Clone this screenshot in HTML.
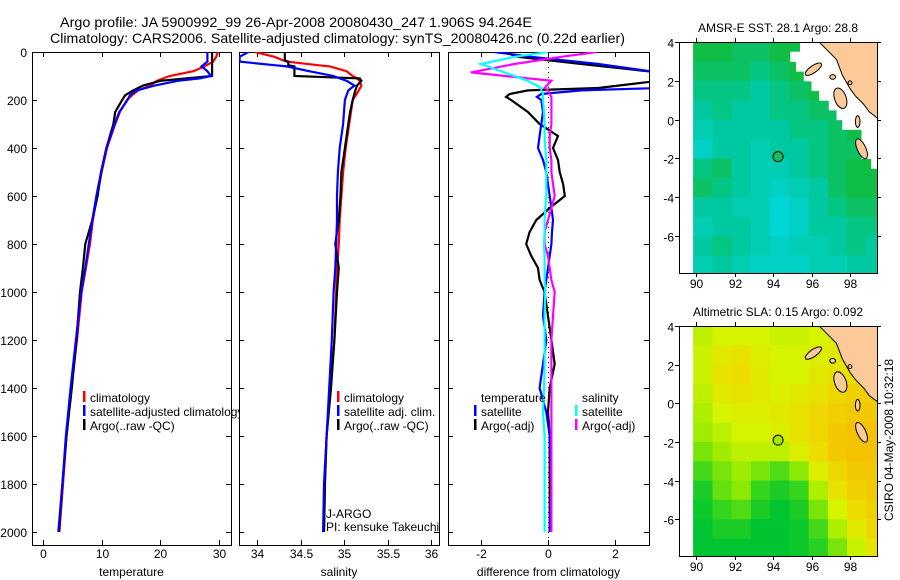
<!DOCTYPE html>
<html><head><meta charset="utf-8">
<style>
html,body{margin:0;padding:0;background:#fff;}
svg{display:block;font-family:"Liberation Sans",sans-serif;}
</style></head>
<body>
<svg id="fig" width="900" height="580" viewBox="0 0 900 580" xmlns="http://www.w3.org/2000/svg">
<text x="60" y="27" font-size="14" textLength="472" lengthAdjust="spacingAndGlyphs">Argo profile: JA 5900992_99 26-Apr-2008 20080430_247 1.906S 94.264E</text>
<text x="50" y="43" font-size="14" textLength="575" lengthAdjust="spacingAndGlyphs">Climatology: CARS2006. Satellite-adjusted climatology: synTS_20080426.nc (0.22d earlier)</text>
<text transform="translate(893,440) rotate(-90)" text-anchor="middle" font-size="12">CSIRO 04-May-2008 10:32:18</text>
</svg>
<script>
// ---------- data ----------
const depthT = [0,20,40,60,80,100,110,120,140,160,180,200,250,300,400,500,600,700,800,900,1000,1200,1400,1600,1800,2000];
const tempClim = [29.8,29.5,29,27.5,25.6,21.6,20.5,19.4,18.2,16.2,15.2,14.3,13.1,12.3,10.9,10,9.2,8.5,8,7.3,6.6,5.8,4.8,4.0,3.4,2.8];
const tempSat  = [28,28,28,27,28,28.6,26.7,23,19,16,14.8,14.4,13,12.2,10.8,9.9,9.1,8.4,7.8,7.2,6.5,5.6,4.7,3.9,3.3,2.6];
const tempArgo = [28.8,28.8,28.8,28.8,28.8,28.8,24.5,20,17,15.4,14,13.5,12.3,12.0,10.8,9.9,9.3,8.4,7.2,6.8,6.3,5.7,4.9,4.0,3.3,2.7];
const depthS = [0,20,35,40,55,60,80,100,110,120,140,160,200,250,300,400,500,600,700,800,900,1000,1200,1400,1600,1800,2000];
const salClim = [33.98,34.2,34.3,34.34,34.7,34.84,35.03,35.1,35.15,35.18,35.2,35.17,35.1,35.08,35.06,35.02,34.99,34.97,34.95,34.94,34.92,34.91,34.89,34.84,34.8,34.78,34.77];
const salSat  = [33.9,33.8,33.8,33.8,34.2,34.34,34.6,34.88,34.95,35.03,35.12,35.05,35.01,35.0,34.99,34.95,34.93,34.92,34.92,34.91,34.9,34.88,34.86,34.83,34.8,34.77,34.76];
const salArgo = [34.32,34.32,34.32,34.36,34.36,34.43,34.43,34.43,35.18,35.2,35.15,35.13,35.1,35.07,35.05,35.01,34.97,34.96,34.94,34.9,34.94,34.92,34.89,34.85,34.8,34.78,34.77];
const depthD = [0,20,50,85,120,150,160,175,187,200,250,300,350,400,450,500,550,600,650,700,750,800,850,900,950,1000,1100,1200,1300,1400,1500,1600,1800,2000];
const diffTSat  = [-1.6,-0.5,1.5,3.3,3.3,3.3,1.0,-0.2,-0.33,-0.2,-0.15,-0.2,-0.25,-0.3,-0.15,-0.05,0.0,0.05,0.1,0.15,0.12,0.1,0.05,0.0,-0.05,-0.1,-0.15,-0.05,-0.15,-0.25,-0.05,0.05,0.1,0.05];
const diffTArgo = [-1.3,-0.9,1.0,3.3,3.3,1.5,-0.6,-1.15,-1.25,-1.1,-0.6,-0.25,0.3,0.15,0.3,0.35,0.45,0.5,0.05,-0.35,-0.55,-0.65,-0.5,-0.3,-0.25,-0.1,0.0,0.1,0.2,0.05,0.0,0.05,0.05,0.05];
const diffSSat  = [0.0,-1.0,-2.0,-1.3,-0.6,-0.2,-0.2,-0.15,-0.15,-0.15,-0.12,-0.1,-0.1,-0.08,-0.05,-0.05,-0.05,-0.05,-0.08,-0.1,-0.1,-0.12,-0.1,-0.1,-0.1,-0.08,-0.1,-0.1,-0.1,-0.12,-0.15,-0.1,-0.1,-0.1];
const diffSArgo = [1.45,0.4,-1.0,-2.3,0.1,-0.1,0.0,0.05,0.1,0.1,0.1,0.1,0.05,0.05,0.1,0.1,0.15,0.2,0.1,0.0,-0.1,-0.1,0.0,0.05,0.1,0.2,0.15,0.1,0.1,0.1,0.1,0.1,0.1,0.1];
const tTicks = [0,10,20,30];
const sTicks = [34,34.5,35,35.5,36];
const sTickLabels = ["34","34.5","35","35.5","36"];
const dTicks = [-2,0,2];
const depthTicks = [0,200,400,600,800,1000,1200,1400,1600,1800,2000];
const lonTicks = [90,92,94,96,98];
const latTicks = [4,2,0,-2,-4,-6];
const sstGrid = [
 [28.3,28.3,28.2,28.2,28.3,28.3,28.3,28.3,28.3,28.3],
 [28.2,28.2,28.2,28.1,28.2,28.3,28.3,28.3,28.3,28.3],
 [28.1,28.1,28.1,28.0,28.1,28.2,28.3,27.8,28.2,28.2],
 [28.0,28.1,28.0,28.0,28.1,28.1,28.2,28.2,28.2,28.2],
 [27.9,28.0,28.0,28.0,28.0,28.1,28.1,28.2,28.3,28.3],
 [27.8,28.0,28.0,27.9,28.0,28.0,28.1,28.2,28.2,28.2],
 [28.1,28.2,28.0,27.9,27.9,28.0,28.1,28.2,28.3,28.3],
 [28.2,28.1,28.0,27.9,27.8,27.9,28.0,28.2,28.3,28.3],
 [28.0,28.0,27.9,27.9,27.7,27.8,28.0,28.1,28.2,28.2],
 [27.9,28.0,28.0,27.9,27.7,27.8,28.0,28.0,28.1,28.1],
 [28.0,28.1,28.0,27.9,27.8,27.9,27.9,28.0,28.1,28.0],
 [27.9,28.0,27.9,27.8,27.8,27.8,27.9,27.9,28.0,28.0]];
const slaGrid = [
 [0.12,0.14,0.14,0.14,0.13,0.13,0.14,0.15,0.1,0.1],
 [0.13,0.16,0.17,0.15,0.14,0.14,0.15,0.16,0.17,0.17],
 [0.13,0.17,0.18,0.16,0.14,0.14,0.16,0.17,0.18,0.18],
 [0.12,0.16,0.17,0.16,0.15,0.16,0.17,0.19,0.20,0.20],
 [0.11,0.14,0.15,0.15,0.16,0.17,0.19,0.20,0.21,0.21],
 [0.10,0.12,0.14,0.14,0.15,0.17,0.19,0.21,0.22,0.22],
 [0.08,0.10,0.12,0.12,0.12,0.15,0.18,0.21,0.22,0.22],
 [0.05,0.08,0.10,0.08,0.06,0.09,0.15,0.19,0.21,0.21],
 [0.02,0.07,0.09,0.04,0.02,0.04,0.11,0.17,0.20,0.21],
 [0.01,0.04,0.06,0.02,0.00,0.02,0.08,0.14,0.18,0.20],
 [0.00,0.02,0.02,0.00,0.00,0.01,0.05,0.11,0.16,0.19],
 [-0.01,0.00,0.00,0.00,0.00,0.01,0.03,0.08,0.13,0.17]];
const gridLon0 = 89.85, gridLat0 = 4;
const argoLon = 94.264, argoLat = -1.906;
const landLon = [96.3,96.8,97.3,97.6,98.0,98.3,98.7,99.0,99.4,99.5,99.5];
const landLat = [4.1,3.6,3.1,2.3,1.6,1.2,0.8,0.4,0.1,0.1,4.1];
// no-data mask: start longitude for each half-degree row from lat 4 downward
const maskStartLon = [95.4,94.9,95.2,95.6,96.0,96.4,96.9,97.3,97.6,98.6,98.6,98.6,99.1];
const islands = [[96.1,2.6,0.5,0.18,-35],[97.5,1.1,0.3,0.55,-20],[98.6,-1.5,0.22,0.55,-25],[98.4,-0.1,0.12,0.3,0],[97.1,2.2,0.15,0.12,0],[98.0,1.9,0.1,0.1,0]];

// ---------- helpers ----------
const NS="http://www.w3.org/2000/svg";
const svg=document.getElementById('fig');
function mk(tag,attrs,parent){const e=document.createElementNS(NS,tag);for(const k in attrs)e.setAttribute(k,attrs[k]);(parent||svg).appendChild(e);return e;}
function txt(x,y,s,attrs,parent){const e=mk('text',Object.assign({x:x,y:y,'font-size':12},attrs||{}),parent);e.textContent=s;return e;}

const PT=52, PB=545, yD=d=>52+d*0.24;
function profilePanel(name,L,R,xs,xTicks,xLabels,title){
  const g=mk('g',{});
  
  
  const cid=name+'-clip';
  const cp=mk('clipPath',{id:cid},g);mk('rect',{x:L,y:PT,width:R-L,height:PB-PT},cp);
  const b=mk('rect',{x:L+.5,y:PT+.5,width:R-L,height:PB-PT,fill:'none',stroke:'#000','stroke-width':1},g);
  
  
  xTicks.forEach((t,i)=>{const x=Math.round(xs(t))+.5;
    mk('line',{x1:x,x2:x,y1:PB,y2:PB-5,stroke:'#000'},g);mk('line',{x1:x,x2:x,y1:PT,y2:PT+5,stroke:'#000'},g);
    const tl=txt(x,558,xLabels[i],{'text-anchor':'middle'},g);
    
    });
  depthTicks.forEach(d=>{const y=Math.round(yD(d))+.5;
    mk('line',{x1:L,x2:L+5,y1:y,y2:y,stroke:'#000'},g);mk('line',{x1:R-5,x2:R,y1:y,y2:y,stroke:'#000'},g);});
  const at=txt((L+R)/2,576,title,{'text-anchor':'middle'},g);
  
  
  return {g,clip:'url(#'+cid+')'};
}
function series(p,xs,depths,vals,color,name){
  const pts=depths.map((d,i)=>xs(vals[i]).toFixed(1)+','+yD(d).toFixed(1)).join(' ');
  const l=mk('polyline',{points:pts,fill:'none',stroke:color,'stroke-width':2.2,'clip-path':p.clip},p.g);
  
  
}
function legendItem(p,x,y,color,label,name,clip){
  if(color){mk('rect',{x:x,y:y-11,width:2.5,height:11,fill:color},p.g);}
  const a={};if(clip)a['clip-path']=clip;
  const t=txt(x+7,y,label,a,p.g);
  
  
}

// depth labels
depthTicks.forEach(d=>{const t=txt(27,yD(d)+5,String(d),{'text-anchor':'end'});
  
  });

// legend clip for panel 1 (text cut at x=240)
const lc=mk('clipPath',{id:'leg1clip'});mk('rect',{x:0,y:0,width:240,height:580},lc);

// panel 1 temperature
const xT=t=>43+t*5.87;
const p1=profilePanel('temperature',32,231,xT,tTicks,tTicks.map(String),'temperature');
series(p1,xT,depthT,tempClim,'#ff0000','temp-climatology-line');
series(p1,xT,depthT,tempArgo,'#000000','temp-argo-line');
series(p1,xT,depthT,tempSat,'#0000ff','temp-satellite-line');
legendItem(p1,83,402,'#ff0000','climatology','legend-climatology');
legendItem(p1,83,416,'#0000ff','satellite-adjusted climatology','legend-satellite-adjusted','url(#leg1clip)');
legendItem(p1,83,430,'#000000','Argo(..raw -QC)','legend-argo-raw');

// panel 2 salinity
const xS=s=>257+(s-34)*87;
const p2=profilePanel('salinity',239,439,xS,sTicks,sTickLabels,'salinity');
series(p2,xS,depthS,salClim,'#ff0000','sal-climatology-line');
series(p2,xS,depthS,salArgo,'#000000','sal-argo-line');
series(p2,xS,depthS,salSat,'#0000ff','sal-satellite-line');
legendItem(p2,337,402,'#ff0000','climatology','legend-sal-climatology');
legendItem(p2,337,416,'#0000ff','satellite adj. clim.','legend-sal-satellite');
legendItem(p2,337,430,'#000000','Argo(..raw -QC)','legend-sal-argo');
legendItem(p2,319,518,null,'J-ARGO','j-argo-label');
legendItem(p2,319,531,null,'PI: kensuke Takeuchi','pi-label');

// panel 3 differences
const xD=v=>548+v*33.5;
const p3=profilePanel('difference',448,649,xD,dTicks,dTicks.map(String),'difference from climatology');
mk('line',{x1:548.5,x2:548.5,y1:PT,y2:PB,stroke:'#000','stroke-dasharray':'1,4'},p3.g);
series(p3,xD,depthD,diffTArgo,'#000000','diff-temp-argo-line');
series(p3,xD,depthD,diffTSat,'#0000ff','diff-temp-satellite-line');
series(p3,xD,depthD,diffSArgo,'#ff00ff','diff-sal-argo-line');
series(p3,xD,depthD,diffSSat,'#00ffff','diff-sal-satellite-line');
legendItem(p3,474,402,null,'temperature','legend-temperature-heading');
legendItem(p3,474,416,'#0000ff','satellite','legend-diff-temp-satellite');
legendItem(p3,474,430,'#000000','Argo(-adj)','legend-diff-temp-argo');
legendItem(p3,575,402,null,'salinity','legend-salinity-heading');
legendItem(p3,575,416,'#00ffff','satellite','legend-diff-sal-satellite');
legendItem(p3,575,430,'#ff00ff','Argo(-adj)','legend-diff-sal-argo');

// ---------- maps ----------
function lerpColor(stops,v){
  let c;
  if(v<=stops[0][0])c=stops[0][1];
  else if(v>=stops[stops.length-1][0])c=stops[stops.length-1][1];
  else for(let i=1;i<stops.length;i++){if(v<=stops[i][0]){const a=stops[i-1],b=stops[i],f=(v-a[0])/(b[0]-a[0]);
    c=[0,1,2].map(k=>Math.round(a[1][k]+(b[1][k]-a[1][k])*f));break;}}
  return 'rgb('+c.join(',')+')';
}
function mapPanel(name,T,B,grid,stops,title,hasMask,dotColor){
  const L=679,R=877;
  const lx=lon=>696+(lon-90)*19.25;
  const ly=lat=>T+(4-lat)*((B-T)/11.9);
  const g=mk('g',{});
  
  
  const cid=name+'-clip';
  const cp=mk('clipPath',{id:cid},g);mk('rect',{x:L,y:T,width:R-L,height:B-T},cp);
  const cg=mk('g',{'clip-path':'url(#'+cid+')'},g);
  grid.forEach((row,r)=>row.forEach((v,c)=>{
    const x0=lx(gridLon0+c),x1=lx(gridLon0+c+1),y0=ly(gridLat0-r),y1=ly(gridLat0-r-1);
    const cell=mk('rect',{x:x0.toFixed(1),y:y0.toFixed(1),width:(x1-x0+0.6).toFixed(1),height:(y1-y0+0.6).toFixed(1),fill:lerpColor(stops,v)},cg);
    
    
  }));
  if(hasMask){
    maskStartLon.forEach((lon,i)=>{
      const y0=ly(4-i*0.5)-(i===0?3:0), y1=ly(4-(i+1)*0.5);
      const m=mk('rect',{x:lx(lon).toFixed(1),y:y0.toFixed(1),width:(R+5-lx(lon)).toFixed(1),height:(y1-y0+0.5).toFixed(1),fill:'#ffffff'},cg);
      
      
    });
  }
  const land=mk('polygon',{points:landLon.map((l,i)=>lx(l).toFixed(1)+','+ly(landLat[i]).toFixed(1)).join(' '),fill:'#fcca98',stroke:'#000','stroke-width':1},cg);
  
  
  islands.forEach(is=>{const cx=lx(is[0]),cy=ly(is[1]);
    const e=mk('ellipse',{cx:cx,cy:cy,rx:is[2]*19.25,ry:is[3]*19.4,fill:'#fcca98',stroke:'#000','stroke-width':1,transform:'rotate('+is[4]+' '+cx+' '+cy+')'},cg);
    
    });
  const dot=mk('circle',{cx:lx(argoLon),cy:ly(argoLat),r:5,fill:dotColor,stroke:'#000','stroke-width':1},cg);
  
  
  mk('rect',{x:L+.5,y:T+.5,width:R-L,height:B-T,fill:'none',stroke:'#000'},g);
  lonTicks.forEach(l=>{const x=Math.round(lx(l))+.5;mk('line',{x1:x,x2:x,y1:B,y2:B+4,stroke:'#000'},g);mk('line',{x1:x,x2:x,y1:T,y2:T-4,stroke:'#000'},g);
    const t=txt(x,B+15,String(l),{'text-anchor':'middle'},g);
    
    });
  latTicks.forEach(l=>{const y=Math.round(ly(l))+.5;mk('line',{x1:L-4,x2:L,y1:y,y2:y,stroke:'#000'},g);mk('line',{x1:R,x2:R+4,y1:y,y2:y,stroke:'#000'},g);
    const t=txt(L-5,y+5,String(l),{'text-anchor':'end'},g);
    
    });
  const tt=txt((L+R)/2,T-10,title,{'text-anchor':'middle'},g);
  
  
}
mapPanel('sst',42,273,sstGrid,[[27.7,[0,214,214]],[28.0,[0,200,160]],[28.3,[16,190,70]]],'AMSR-E SST: 28.1 Argo: 28.8',true,'#10c060');
mapPanel('sla',326,556,slaGrid,[[0.0,[0,196,48]],[0.06,[80,220,20]],[0.10,[160,236,0]],[0.14,[214,244,0]],[0.18,[236,220,0]],[0.22,[244,194,0]]],'Altimetric SLA: 0.15 Argo: 0.092',false,'#a8e400');
</script>
</body></html>
